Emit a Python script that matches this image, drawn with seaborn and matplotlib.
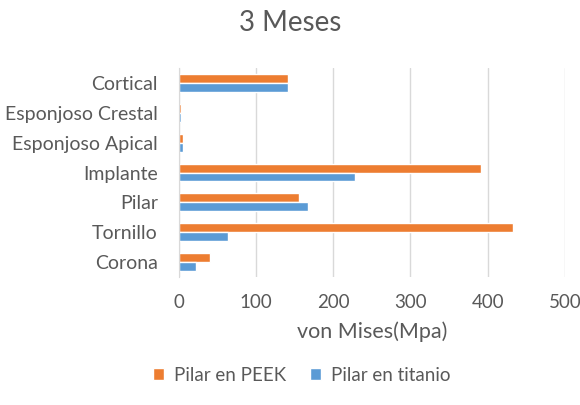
import pandas as pd
import matplotlib.pyplot as plt
import seaborn as sns

categorias = ['Cortical', 'Esponjoso Crestal', 'Esponjoso Apical', 'Implante', 'Pilar', 'Tornillo', 'Corona']
peek = [142, 3, 5, 392, 156, 433, 41]
titanio = [142, 3, 5, 228, 168, 64, 23]
series = ['Pilar en PEEK', 'Pilar en titanio']

df = pd.DataFrame({
    'Parte': categorias * 2,
    'Serie': [series[0]] * len(categorias) + [series[1]] * len(categorias),
    'von Mises(Mpa)': peek + titanio,
})

sns.set_style('white')
plt.rcParams['font.family'] = ['Lato', 'DejaVu Sans']
gris = '#595959'

fig = plt.figure(figsize=(5.8, 4.05), dpi=100)
ax = fig.add_axes([0.308, 0.316, 0.666, 0.516])
sns.barplot(data=df, x='von Mises(Mpa)', y='Parte', hue='Serie', orient='h',
            palette=['#ED7D31', '#5B9BD5'], saturation=1, width=0.6, ax=ax, legend=True)

ax.set_xlim(0, 500)
ax.set_xticks([0, 100, 200, 300, 400, 500])
ax.grid(axis='x', color='#D9D9D9', linewidth=1)
ax.set_axisbelow(True)
for s in ['top', 'right', 'bottom']:
    ax.spines[s].set_visible(False)
ax.spines['left'].set_color('#D9D9D9')
ax.tick_params(axis='both', length=0, colors=gris)
ax.tick_params(axis='y', labelsize=14, pad=15)
ax.tick_params(axis='x', labelsize=13.5, pad=12)
ax.set_ylabel('')
ax.set_xlabel('von Mises(Mpa)', color=gris, fontsize=15.5, labelpad=8)
fig.suptitle('3 Meses', color=gris, fontsize=20, y=0.975)

ax.legend(loc='center', bbox_to_anchor=(0.52, 0.073), bbox_transform=fig.transFigure,
          ncol=2, frameon=False, fontsize=13.5, labelcolor=gris,
          handlelength=0.6, handleheight=0.6, columnspacing=1.3, handletextpad=0.5)

plt.savefig('out.png')
